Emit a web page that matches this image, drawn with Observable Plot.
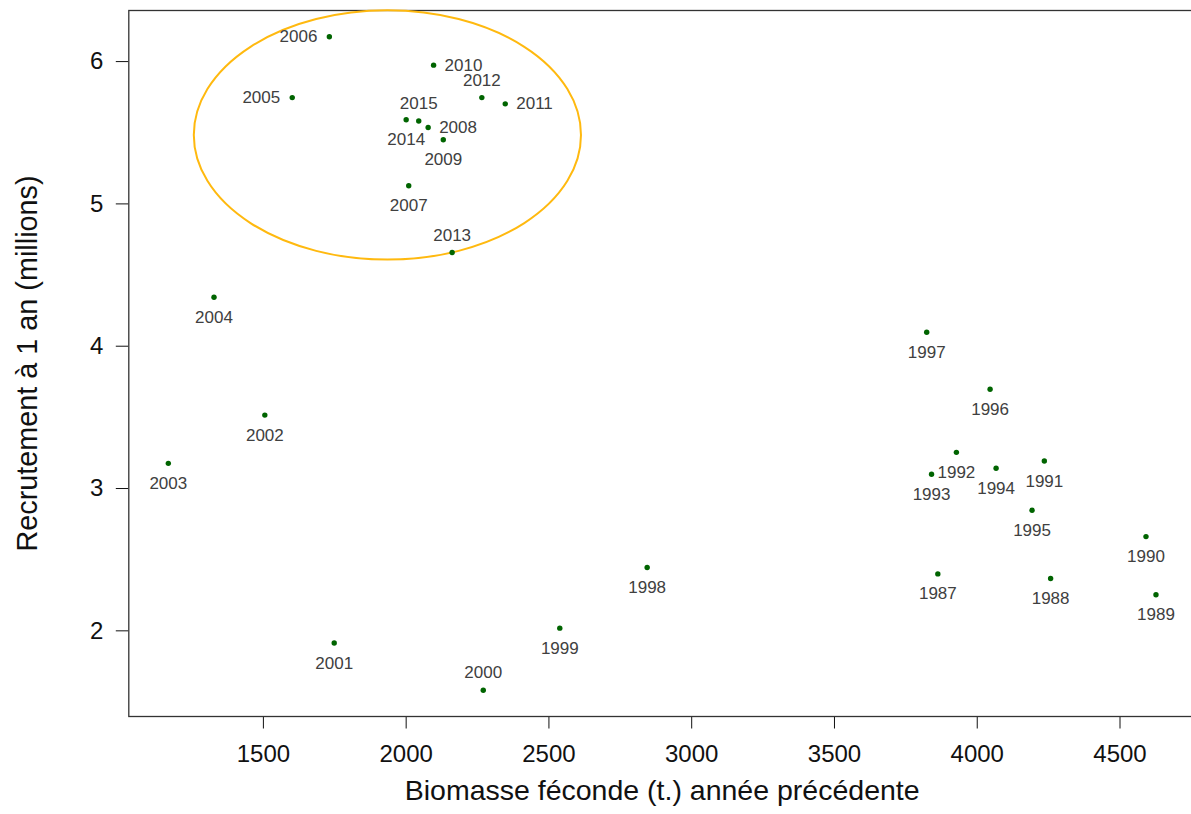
<!DOCTYPE html>
<html>
<head>
<meta charset="utf-8">
<script src="https://cdn.jsdelivr.net/npm/d3@7"></script>
<script src="https://cdn.jsdelivr.net/npm/@observablehq/plot@0.6"></script>
<style>
  html, body { margin: 0; padding: 0; background: #fff; overflow: hidden; }
</style>
</head>
<body>
<div id="chart"></div>
<script>
// ---- Data ----
const years = [1987, 1988, 1989, 1990, 1991, 1992, 1993, 1994, 1995, 1996, 1997, 1998, 1999, 2000,
               2001, 2002, 2003, 2004, 2005, 2006, 2007, 2008, 2009, 2010, 2011, 2012, 2013, 2014, 2015];
const biomass = [3862, 4257, 4626, 4591, 4235, 3927, 3840, 4066, 4192, 4045, 3823, 2844, 2538, 2270,
                 1748, 1505, 1167, 1327, 1601, 1731, 2009, 2077, 2130, 2096, 2347, 2265, 2161, 2000, 2044];
const recruitment = [2.400, 2.368, 2.253, 2.662, 3.193, 3.254, 3.100, 3.142, 2.847, 3.698, 4.098, 2.445, 2.019, 1.582,
                     1.914, 3.516, 3.177, 4.344, 5.747, 6.175, 5.128, 5.537, 5.451, 5.975, 5.703, 5.747, 4.658, 5.591, 5.582];
const labelPos = ["below", "below", "below", "below", "below", "below", "below", "below", "below", "below", "below", "below", "below", "above",
                  "below", "below", "below", "below", "left", "left", "below", "right", "below", "right", "right", "above", "above", "below", "above"];
const xTicks = [1500, 2000, 2500, 3000, 3500, 4000, 4500];
const yTicks = [2, 3, 4, 5, 6];
const xTitle = "Biomasse féconde (t.) année précédente";
const yTitle = "Recrutement à 1 an (millions)";
// highlighted group (ellipse) in data units
const ellipseCenter = [1936, 5.481];
const ellipseRadii = [678, 0.876];

const data = years.map((year, i) => ({year, x: biomass[i], y: recruitment[i], pos: labelPos[i]}));

// custom render mark: ellipse positioned through the plot's scales
const ellipseMark = (index, scales) => {
  const sx = scales.x, sy = scales.y;
  const cx = sx(ellipseCenter[0]), cy = sy(ellipseCenter[1]);
  const rx = Math.abs(sx(ellipseCenter[0] + ellipseRadii[0]) - cx);
  const ry = Math.abs(sy(ellipseCenter[1] + ellipseRadii[1]) - cy);
  const e = document.createElementNS("http://www.w3.org/2000/svg", "ellipse");
  e.setAttribute("cx", cx);
  e.setAttribute("cy", cy);
  e.setAttribute("rx", rx);
  e.setAttribute("ry", ry);
  e.setAttribute("fill", "none");
  e.setAttribute("stroke", "#FFB90F");
  e.setAttribute("stroke-width", 2);
  return e;
};

const labelCommon = {x: "x", y: "y", text: d => String(d.year), fill: "#404040", fontSize: 17};
const fmt = d => String(d);

const chart = Plot.plot({
  width: 1191,
  height: 814,
  marginLeft: 128.3,
  marginTop: 10,
  marginBottom: 98,
  marginRight: -4,
  style: {
    fontFamily: "'Liberation Sans', Arial, sans-serif",
    fontSize: "24px",
    color: "#111",
    background: "#fff",
    overflow: "hidden"
  },
  x: {domain: [1028.6, 4764.4]},
  y: {domain: [1.398, 6.359]},
  marks: [
    Plot.axisX({ticks: xTicks, tickFormat: fmt, tickSize: 12.5, tickPadding: 15.5, fontSize: 24, label: null}),
    Plot.axisY({ticks: yTicks, tickFormat: fmt, tickSize: 12.5, tickPadding: 13, fontSize: 24, label: null}),
    Plot.frame({stroke: "#333", strokeWidth: 1.3}),
    ellipseMark,
    Plot.dot(data, {x: "x", y: "y", r: 2.7, fill: "#006400", stroke: "none"}),
    Plot.text(data.filter(d => d.pos === "below"), {...labelCommon, dy: 20}),
    Plot.text(data.filter(d => d.pos === "above"), {...labelCommon, dy: -17.5}),
    Plot.text(data.filter(d => d.pos === "left"), {...labelCommon, dx: -12, textAnchor: "end"}),
    Plot.text(data.filter(d => d.pos === "right"), {...labelCommon, dx: 11, textAnchor: "start"}),
    Plot.text([xTitle], {text: d => d, frameAnchor: "bottom", dy: 74, lineAnchor: "middle", textAnchor: "middle", fontSize: 28.5, fill: "#111"}),
    Plot.text([yTitle], {text: d => d, frameAnchor: "left", dx: -101, rotate: -90, lineAnchor: "middle", textAnchor: "middle", fontSize: 28.8, fill: "#111"})
  ]
});
document.getElementById("chart").appendChild(chart);
</script>
</body>
</html>
